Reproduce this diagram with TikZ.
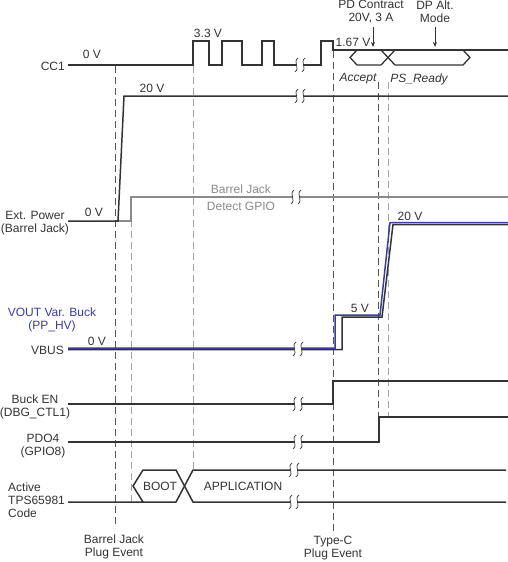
\documentclass[tikz,border=0pt]{standalone}
\usepackage{fontspec}
\setmainfont{Liberation Sans}
\usetikzlibrary{arrows.meta}
\definecolor{ink}{HTML}{333333}
\definecolor{gr}{HTML}{8A8A8A}
\definecolor{dashdk}{HTML}{555555}
\definecolor{dashlt}{HTML}{A5A5A5}
\definecolor{vblue}{HTML}{3B3B9E}
\tikzset{
  sig/.style={draw=ink, line width=1.5pt, line join=miter},
  gsig/.style={draw=gr, line width=1.5pt},
  bsig/.style={draw=vblue, line width=1.5pt},
  bus/.style={draw=ink, line width=1.3pt},
  dk/.style={draw=dashdk, line width=0.9pt, dash pattern=on 7pt off 4pt},
  lt/.style={draw=dashlt, line width=0.9pt, dash pattern=on 7pt off 4pt},
  lbl/.style={font=\fontsize{12}{13}\selectfont, text=ink, inner sep=0pt, align=center},
  glbl/.style={lbl, text=gr},
  blbl/.style={lbl, text=vblue},
  ilbl/.style={lbl, font=\fontsize{12}{13}\selectfont\itshape},
  arr/.style={draw=ink, line width=0.8pt, -{Stealth[length=5pt,width=4pt]}},
  brk/.pic={
    \fill[white] (-3.6,-2.2) rectangle (3.6,2.2);
    \draw[ink, line width=0.7pt] (-2,-7) .. controls (-7.5,-3) and (0.5,3) .. (-5,7);
    \draw[ink, line width=0.7pt] (5,-7) .. controls (-0.5,-3) and (7.5,3) .. (2,7);
  }
}
\begin{document}
\begin{tikzpicture}[x=1pt,y=-1pt]
\useasboundingbox (0,0) rectangle (508,562);
% dashed event lines
\draw[dk] (115,66) -- (115,528);
\draw[lt] (131,198) -- (131,502);
\draw[lt] (193,66) -- (193,470);
\draw[dk] (333,51) -- (333,533);
\draw[dk] (378,82) -- (378,417);
\draw[lt] (388,82) -- (388,417);
% CC1
\draw[sig] (68,65) -- (193,65) -- (193,41) -- (209,41) -- (209,65) -- (222,65) -- (222,41) -- (242,41) -- (242,65) -- (262,65) -- (262,41) -- (274,41) -- (274,65) -- (321,65) -- (321,41) -- (333,41) -- (333,50) -- (508,50);
\draw[bus] (357,50) -- (350,57.5) -- (357,65) -- (381,65) -- (395,50);
\draw[bus] (381,50) -- (395,65) -- (463,65) -- (470,57.5) -- (463,50);
\pic at (300,65) {brk};
% Barrel jack detect GPIO (gray)
\draw[gsig] (116,221) -- (131,221) -- (131,197) -- (508,197);
\pic at (296,197) {brk};
% Ext power
\draw[sig] (68,221) -- (118,221) -- (124,96) -- (508,96);
\pic at (300,96) {brk};
% VBUS / VOUT
\draw[sig] (68,349.5) -- (342,349.5) -- (342,317) -- (382,317) -- (393,224.5) -- (508,224.5);
\draw[bsig] (68,348) -- (335,348) -- (335,315) -- (380,315) -- (390,222.5) -- (508,222.5);
\pic at (298,349) {brk};
% Buck EN
\draw[sig] (68,404) -- (333,404) -- (333,381) -- (508,381);
\pic at (298,404) {brk};
% PDO4
\draw[sig] (68,442) -- (379,442) -- (379,417) -- (508,417);
\pic at (298,442) {brk};
% Active code
\draw[sig] (68,502) -- (143,502) -- (133,486) -- (143,470) -- (176,470) -- (193,502) -- (506,502);
\draw[sig] (143,502) -- (176,502) -- (193,470) -- (506,470);
\pic at (294,470) {brk};
\pic at (294,502) {brk};
% arrows
\node[lbl] (pd) at (371,12) {PD Contract\\20V, 3 A};
\coordinate (pdt) at (373,47);
\draw[arr] (373,27) -- (pdt);
\node[lbl] (dp) at (435,12) {DP Alt.\\Mode};
\coordinate (dpt) at (435,47);
\draw[arr] (435,27) -- (dpt);
% labels
\node[lbl, anchor=east] (lcc1) at (65,66) {CC1};
\node[lbl] (v0a) at (92,54) {0 V};
\node[lbl] (v33) at (208,33) {3.3 V};
\node[lbl] (v20a) at (152,88) {20 V};
\node[lbl] (v167) at (353,42) {1.67 V};
\node[ilbl] (acc) at (358,79) {Accept};
\node[ilbl] (psr) at (419,79) {PS\_Ready};
\node[lbl] (lext) at (35,223) {Ext. Power\\(Barrel Jack)};
\node[lbl] (v0b) at (94,212) {0 V};
\node[glbl] (bj1) at (241,189) {Barrel Jack};
\node[glbl] (bj2) at (241,206) {Detect GPIO};
\node[blbl] (lvout) at (52,320) {VOUT Var. Buck\\(PP\_HV)};
\node[lbl, anchor=east] (lvbus) at (64,350) {VBUS};
\node[lbl] (v0c) at (97,341) {0 V};
\node[lbl] (v5) at (360,308) {5 V};
\node[lbl] (v20b) at (410,216) {20 V};
\node[lbl] (lbuck) at (35,407) {Buck EN\\(DBG\_CTL1)};
\node[lbl] (lpdo) at (43,446) {PDO4\\(GPIO8)};
\node[lbl, align=left, anchor=west] (lact) at (8,500) {Active\\TPS65981\\Code};
\node[lbl] (boot) at (160,486) {BOOT};
\node[lbl] (app) at (243,486) {APPLICATION};
\node[lbl] (ev1) at (114,547) {Barrel Jack\\Plug Event};
\node[lbl] (ev2) at (333,548) {Type-C\\Plug Event};
\end{tikzpicture}
\end{document}
